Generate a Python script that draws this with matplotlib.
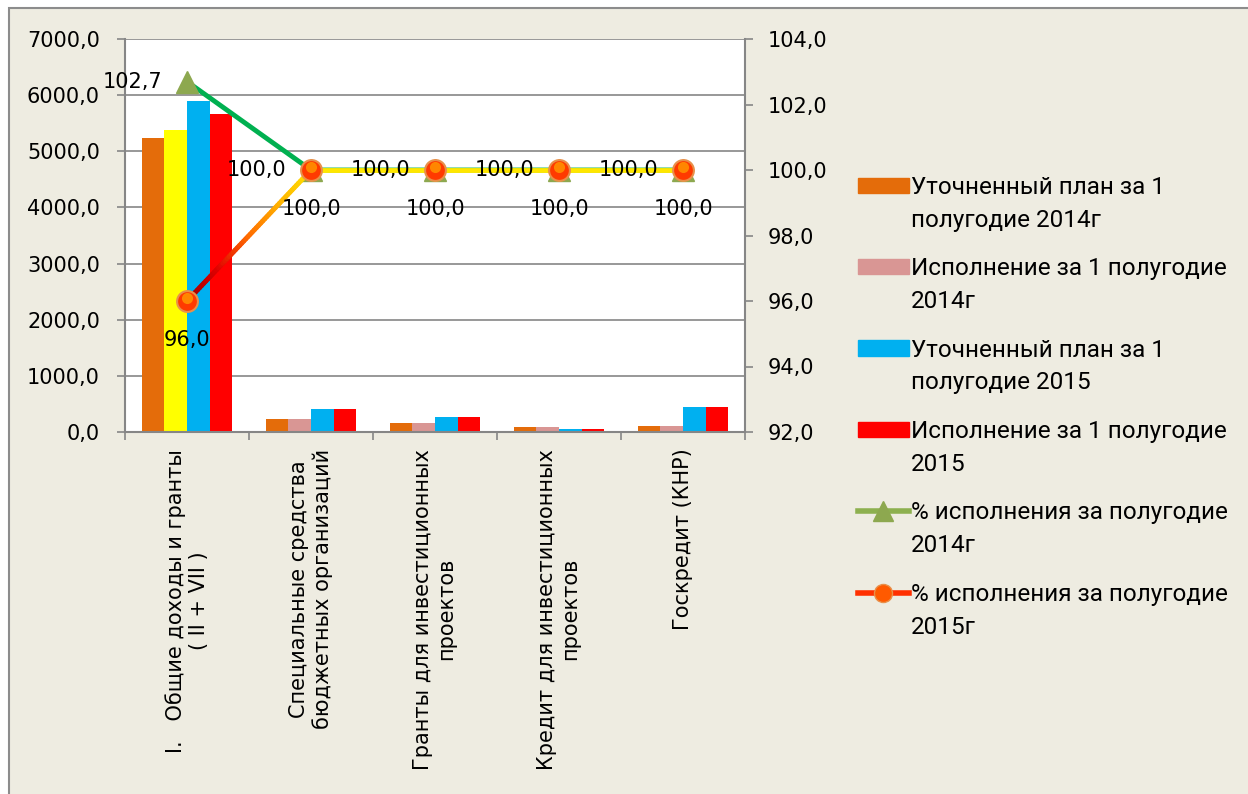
import numpy as np
import matplotlib
matplotlib.use("Agg")
import matplotlib.pyplot as plt
from matplotlib.patches import Rectangle, Patch
from matplotlib.lines import Line2D
from matplotlib.collections import LineCollection
from matplotlib.colors import LinearSegmentedColormap
from matplotlib.legend_handler import HandlerPatch, HandlerLine2D
from matplotlib.transforms import ScaledTranslation

categories = [
    "I.   Общие доходы и гранты\n( II + VII )",
    "Специальные средства\nбюджетных организаций",
    "Гранты для инвестиционных\nпроектов",
    "Кредит для инвестиционных\nпроектов",
    "Госкредит (КНР)",
]
plan_2014 = [5235, 232, 160, 89, 101]
fact_2014 = [5371, 232, 160, 89, 101]
plan_2015 = [5888, 405, 267, 48, 440]
fact_2015 = [5663, 405, 267, 48, 440]
pct_2014 = [102.7, 100.0, 100.0, 100.0, 100.0]
pct_2015 = [96.0, 100.0, 100.0, 100.0, 100.0]

series_names = [
    "Уточненный план за 1\nполугодие 2014г",
    "Исполнение за 1 полугодие\n2014г",
    "Уточненный план за 1\nполугодие 2015",
    "Исполнение за 1 полугодие\n2015",
    "% исполнения за полугодие\n2014г",
    "% исполнения за полугодие\n2015г",
]

BG = "#EEECE1"
GRID = "#868686"
NUMFONT = "DejaVu Sans"
LEGFONT = "Roboto"
DY = 13.5  # lift legend keys to the first text line (points)


def fmt(v):
    return f"{v:.1f}".replace(".", ",")


class ShiftPatch(HandlerPatch):
    def create_artists(self, *args, **kwargs):
        arts = super().create_artists(*args, **kwargs)
        for a in arts:
            a.set_y(a.get_y() + DY)
        return arts


class ShiftLine(HandlerLine2D):
    def create_artists(self, *args, **kwargs):
        arts = super().create_artists(*args, **kwargs)
        for a in arts:
            a.set_ydata(np.asarray(a.get_ydata()) + DY)
        return arts


fig = plt.figure(figsize=(12.48, 7.94), dpi=100, facecolor="white")
fig.patches.append(Rectangle((9 / 1248, -0.01), 1.0, 1 - 8 / 794 + 0.01,
                             transform=fig.transFigure, fc=BG, ec="#8C8C8C",
                             lw=1.5, zorder=-10))

ax = fig.add_axes([125 / 1248, 1 - 432 / 794, 620 / 1248, 393 / 794])
ax.set_facecolor("white")
x = np.arange(len(categories))
w = 0.182
bar_cols = ["#E46C0A", "#D99694", "#00B0F0", "#FF0000"]
fact14_cols = ["#FFFF00"] + ["#D99694"] * (len(categories) - 1)
ax.bar(x - 1.5 * w, plan_2014, w, color=bar_cols[0], zorder=2)
ax.bar(x - 0.5 * w, fact_2014, w, color=fact14_cols, zorder=2)
ax.bar(x + 0.5 * w, plan_2015, w, color=bar_cols[2], zorder=2)
ax.bar(x + 1.5 * w, fact_2015, w, color=bar_cols[3], zorder=2)

ax.set_xlim(-0.5, len(categories) - 0.5)
ax.set_ylim(0, 7000)
ax.set_yticks(np.arange(0, 7001, 1000))
ax.set_yticklabels([fmt(v) for v in np.arange(0, 7001, 1000)],
                   fontsize=15, family=NUMFONT)
ax.yaxis.grid(True, color=GRID, lw=1.2, zorder=0)
ax.set_axisbelow(True)
ax.set_xticks(np.arange(-0.5, len(categories)), [""] * (len(categories) + 1))
ax.set_xticks(x, categories, minor=True, rotation=90, fontsize=15,
              family="DejaVu Sans", multialignment="center")
ax.tick_params(axis="x", which="major", length=6, color=GRID, width=1.2)
ax.tick_params(axis="x", which="minor", length=0, pad=12)
ax.tick_params(axis="y", length=6, color=GRID, width=1.2, pad=12)
for s in ["top", "right"]:
    ax.spines[s].set_visible(False)
for s in ["left", "bottom"]:
    ax.spines[s].set_color(GRID)
    ax.spines[s].set_linewidth(1.5)

ax2 = ax.twinx()
ax2.set_ylim(92, 104)
ax2.set_yticks(np.arange(92, 104.1, 2))
ax2.set_yticklabels([fmt(v) for v in np.arange(92, 104.1, 2)],
                    fontsize=15, family=NUMFONT)
ax2.tick_params(axis="y", length=6, color=GRID, width=1.2, pad=10)
for s in ["top", "left", "bottom"]:
    ax2.spines[s].set_visible(False)
ax2.spines["right"].set_color(GRID)
ax2.spines["right"].set_linewidth(1.5)

# 2014 line
ax2.plot(x, pct_2014, color="#00B050", lw=3.5, zorder=3)
ax2.plot(x, pct_2014, ls="none", marker="^", ms=16, mfc="#8DA84F",
         mec="#8DA84F", zorder=4)

# 2015 line: gradient first segment, yellow afterwards
ax2.plot(x[1:], pct_2015[1:], color="#FFE600", lw=3.5, zorder=5)
grad = LinearSegmentedColormap.from_list(
    "g", ["#9A0000", "#E00000", "#FF6A00", "#FFB000", "#FFE000"])
t = np.linspace(0, 1, 60)
gx = x[0] + (x[1] - x[0]) * t
gy = pct_2015[0] + (pct_2015[1] - pct_2015[0]) * t
segs = np.stack([np.column_stack([gx[:-1], gy[:-1]]),
                 np.column_stack([gx[1:], gy[1:]])], axis=1)
lc = LineCollection(segs, cmap=grad, linewidths=3.5, zorder=5,
                    capstyle="round")
lc.set_array(t[:-1])
ax2.add_collection(lc)
ax2.plot(x, pct_2015, ls="none", marker="o", ms=15, mfc="#FF3A00",
         mec="#E8904A", mew=1.5, zorder=6)
ax2.plot(x, pct_2015, ls="none", marker="o", ms=8, mfc="#FFA000",
         mec="none", alpha=0.75, zorder=7,
         transform=ax2.transData + ScaledTranslation(0, 2.5 / 72,
                                                     fig.dpi_scale_trans))

for xi, v in zip(x, pct_2014):
    ax2.annotate(fmt(v), (xi, v), xytext=(-18, 0), textcoords="offset points",
                 ha="right", va="center", fontsize=15, family=NUMFONT,
                 zorder=8)
for xi, v in zip(x, pct_2015):
    ax2.annotate(fmt(v), (xi, v), xytext=(0, -28), textcoords="offset points",
                 ha="center", va="center", fontsize=15, family=NUMFONT,
                 zorder=8)

handles = [Patch(color=c) for c in bar_cols]
handles.append(Line2D([], [], color="#8DB04F", lw=4, marker="^", ms=14,
                      mfc="#8DA84F", mec="#8DA84F"))
handles.append(Line2D([], [], color="#FF3000", lw=4, marker="o", ms=13,
                      mfc="#FF5A00", mec="#E8904A"))
leg = fig.legend(handles, series_names, loc="upper left",
                 bbox_to_anchor=(848 / 1248, 1 - 166 / 794), frameon=False,
                 prop={"family": LEGFONT, "size": 17.5}, handlelength=2.1,
                 handleheight=0.6, handletextpad=0.1, labelspacing=1.05,
                 borderaxespad=0,
                 handler_map={Patch: ShiftPatch(), Line2D: ShiftLine()})
for txt in leg.get_texts():
    txt.set_linespacing(1.55)

fig.savefig("out.png", dpi=100, facecolor=fig.get_facecolor())
